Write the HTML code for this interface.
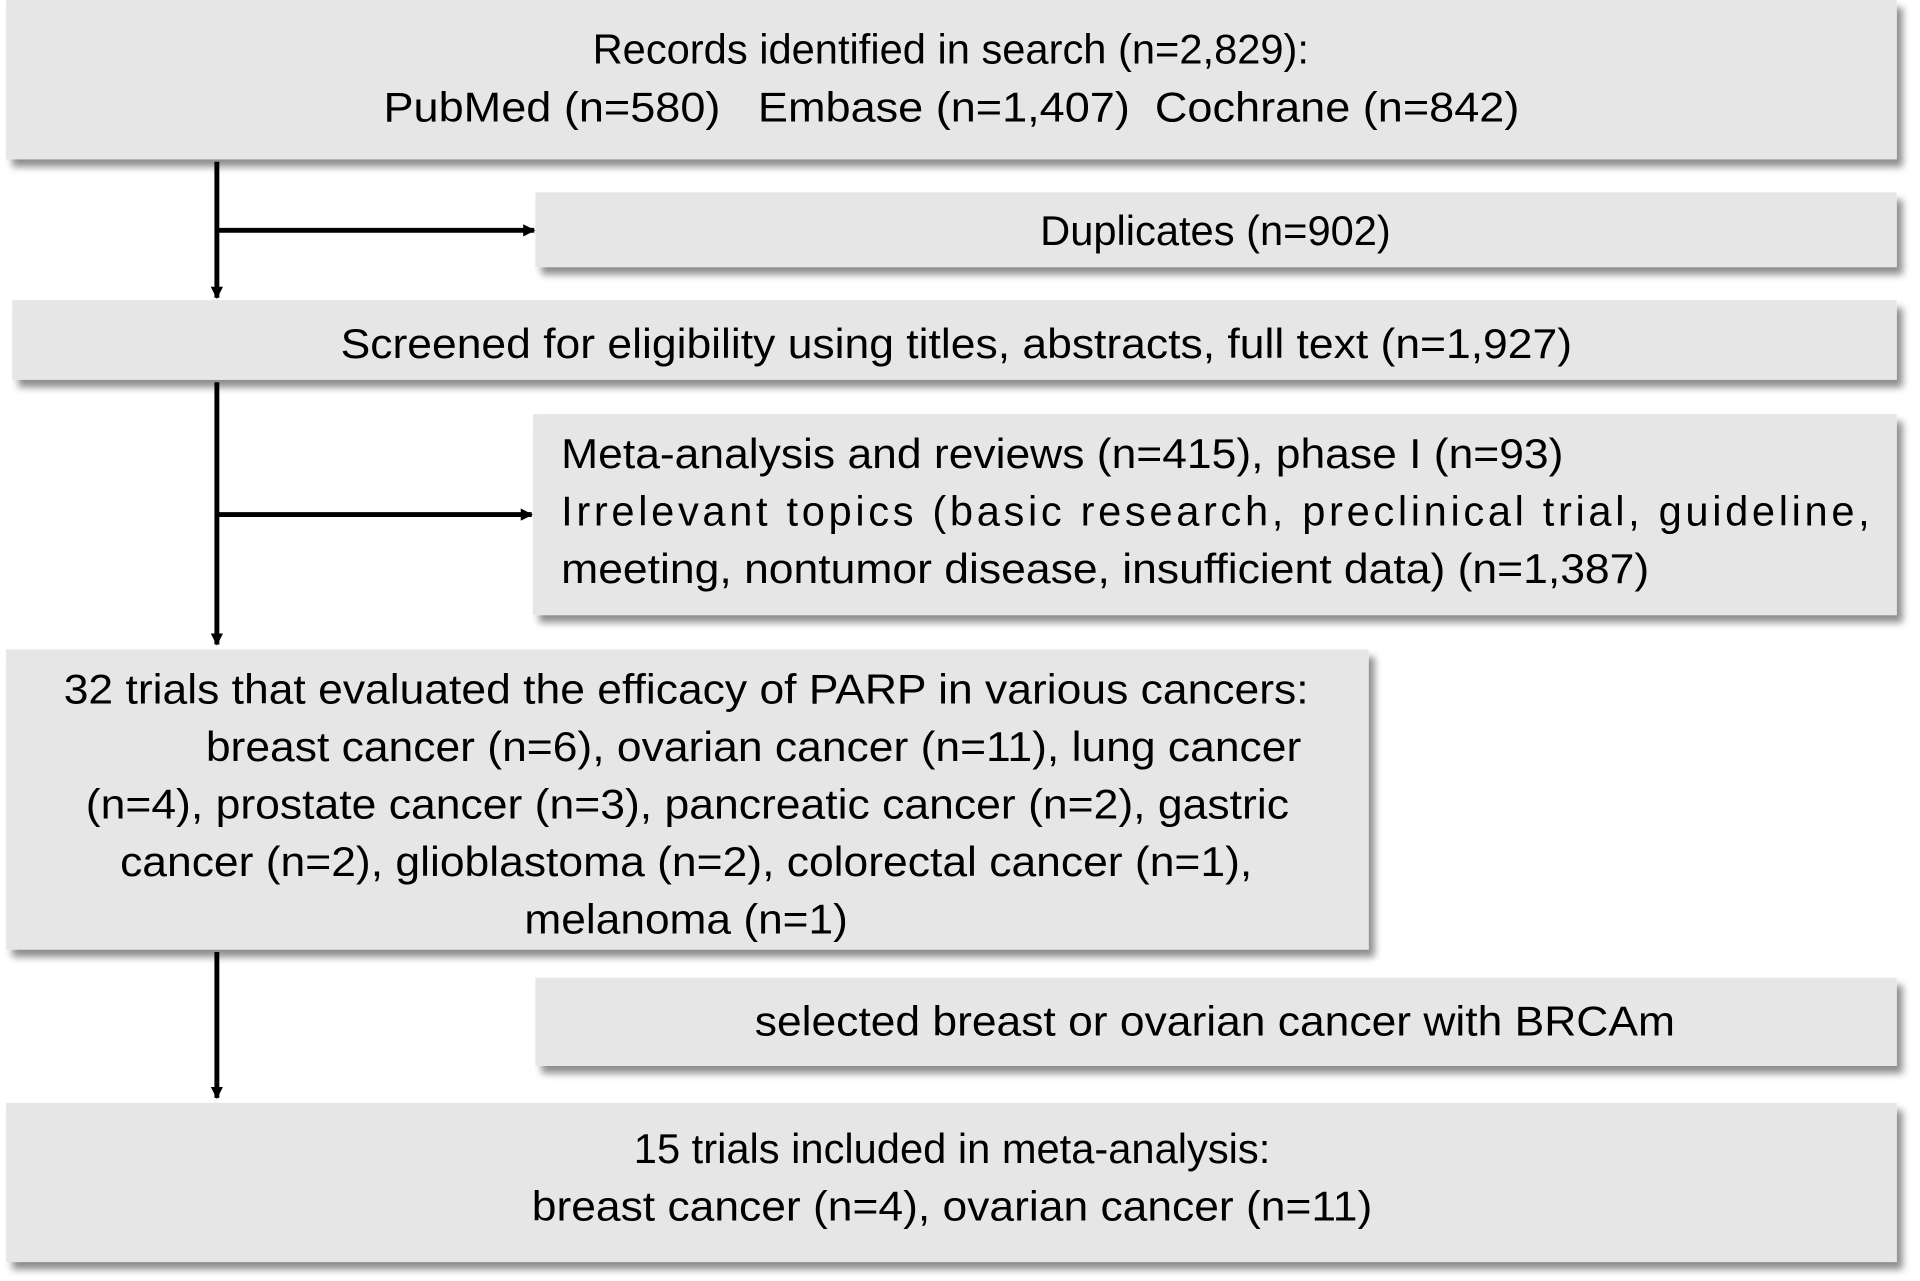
<!DOCTYPE html>
<html><head><meta charset="utf-8"><style>
html,body{margin:0;padding:0;background:#fff;}
svg{display:block;}
text{font-family:"Liberation Sans",Arial,sans-serif;font-size:34px;fill:#000;}
</style></head><body>
<svg width="1920" height="1281" viewBox="0 0 1567 1045.5" preserveAspectRatio="none">
<defs>
<filter id="sh" x="-5%" y="-20%" width="110%" height="140%">
<feGaussianBlur in="SourceAlpha" stdDeviation="3"/>
<feOffset dx="5" dy="6" result="b"/>
<feComponentTransfer><feFuncA type="linear" slope="0.45"/></feComponentTransfer>
<feMerge><feMergeNode/><feMergeNode in="SourceGraphic"/></feMerge>
</filter>
<marker id="ah" markerWidth="10" markerHeight="10" refX="9" refY="5" orient="auto" markerUnits="userSpaceOnUse" viewBox="0 0 10 10">
<path d="M0,0 L10,5 L0,10 z" fill="#000"/>
</marker>
</defs>
<g fill="#e6e6e6" filter="url(#sh)">
<rect x="5" y="0" width="1543" height="130"/>
<rect x="437" y="157" width="1111" height="61"/>
<rect x="10" y="245" width="1538" height="65"/>
<rect x="435" y="338" width="1113" height="164"/>
<rect x="5" y="530" width="1112" height="245"/>
<rect x="437" y="798" width="1111" height="72"/>
<rect x="5" y="900" width="1543" height="130"/>
</g>
<g stroke="#000" stroke-width="4" fill="none">
<line x1="177" y1="132" x2="177" y2="243" marker-end="url(#ah)" style="stroke-width:4"/>
<line x1="177" y1="188" x2="436" y2="188" marker-end="url(#ah)"/>
<line x1="177" y1="312" x2="177" y2="526" marker-end="url(#ah)"/>
<line x1="177" y1="420" x2="434" y2="420" marker-end="url(#ah)"/>
<line x1="177" y1="777" x2="177" y2="896" marker-end="url(#ah)"/>
</g>
<g>
<text x="776" y="52" text-anchor="middle">Records identified in search (n=2,829):</text>
<text x="313" y="99" textLength="927" lengthAdjust="spacingAndGlyphs" xml:space="preserve">PubMed (n=580)   Embase (n=1,407)  Cochrane (n=842)</text>
<text x="992" y="200" text-anchor="middle">Duplicates (n=902)</text>
<text x="278" y="292" textLength="1005" lengthAdjust="spacingAndGlyphs">Screened for eligibility using titles, abstracts, full text (n=1,927)</text>
<text x="458" y="382" textLength="818" lengthAdjust="spacingAndGlyphs">Meta-analysis and reviews (n=415), phase I (n=93)</text>
<text x="458" y="429" textLength="1068" lengthAdjust="spacing">Irrelevant topics (basic research, preclinical trial, guideline,</text>
<text x="458" y="476" textLength="888" lengthAdjust="spacingAndGlyphs">meeting, nontumor disease, insufficient data) (n=1,387)</text>
<text x="52" y="574" textLength="1016" lengthAdjust="spacingAndGlyphs">32 trials that evaluated the efficacy of PARP in various cancers:</text>
<text x="168" y="621" textLength="894" lengthAdjust="spacingAndGlyphs">breast cancer (n=6), ovarian cancer (n=11), lung cancer</text>
<text x="70" y="668" textLength="982" lengthAdjust="spacingAndGlyphs">(n=4), prostate cancer (n=3), pancreatic cancer (n=2), gastric</text>
<text x="98" y="715" textLength="924" lengthAdjust="spacingAndGlyphs">cancer (n=2), glioblastoma (n=2), colorectal cancer (n=1),</text>
<text x="428" y="762" textLength="264" lengthAdjust="spacingAndGlyphs">melanoma (n=1)</text>
<text x="616" y="845" textLength="751" lengthAdjust="spacingAndGlyphs">selected breast or ovarian cancer with BRCAm</text>
<text x="777" y="949" text-anchor="middle">15 trials included in meta-analysis:</text>
<text x="434" y="996" textLength="686" lengthAdjust="spacingAndGlyphs">breast cancer (n=4), ovarian cancer (n=11)</text>
</g>
</svg>
</body></html>
